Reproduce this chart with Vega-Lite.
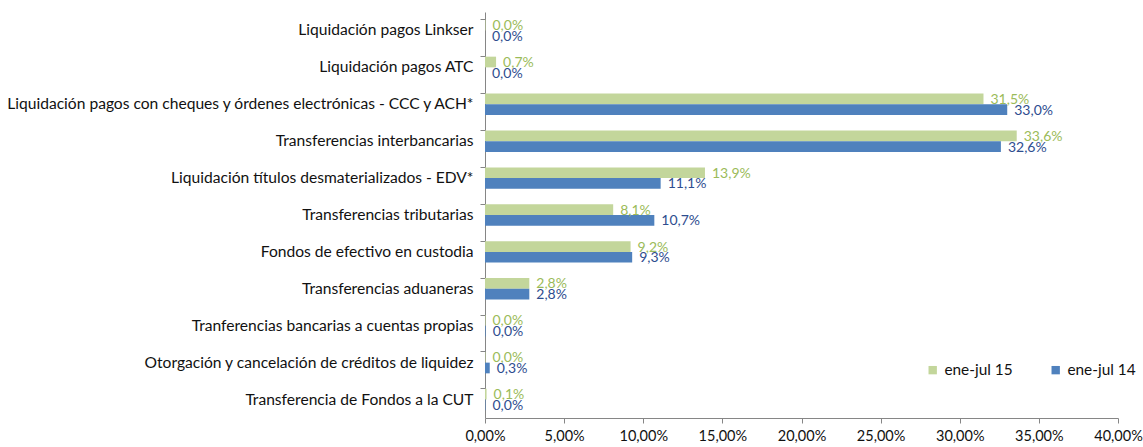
{
  "$schema": "https://vega.github.io/schema/vega-lite/v6.json",
  "width": 633,
  "height": 406,
  "autosize": {"type": "none"},
  "padding": {"left": 485, "top": 12, "right": 25, "bottom": 29},
  "background": "white",
  "config": {
    "locale": {"number": {"decimal": ",", "thousands": ".", "grouping": [3], "currency": ["", " €"]}},
    "view": {"stroke": null},
    "font": "Lato",
    "axis": {"labelFont": "Lato", "titleFont": "Lato"},
    "legend": {"labelFont": "Lato"}
  },
  "data": {
    "values": [
      {"cat": "Liquidación pagos Linkser", "serie": "ene-jul 15", "valor": 0.0003},
      {"cat": "Liquidación pagos Linkser", "serie": "ene-jul 14", "valor": 0.0},
      {"cat": "Liquidación pagos ATC", "serie": "ene-jul 15", "valor": 0.007},
      {"cat": "Liquidación pagos ATC", "serie": "ene-jul 14", "valor": 0.0},
      {"cat": "Liquidación pagos con cheques y órdenes electrónicas - CCC y ACH*", "serie": "ene-jul 15", "valor": 0.315},
      {"cat": "Liquidación pagos con cheques y órdenes electrónicas - CCC y ACH*", "serie": "ene-jul 14", "valor": 0.330},
      {"cat": "Transferencias interbancarias ", "serie": "ene-jul 15", "valor": 0.336},
      {"cat": "Transferencias interbancarias ", "serie": "ene-jul 14", "valor": 0.326},
      {"cat": "Liquidación títulos desmaterializados - EDV*", "serie": "ene-jul 15", "valor": 0.139},
      {"cat": "Liquidación títulos desmaterializados - EDV*", "serie": "ene-jul 14", "valor": 0.111},
      {"cat": "Transferencias tributarias ", "serie": "ene-jul 15", "valor": 0.081},
      {"cat": "Transferencias tributarias ", "serie": "ene-jul 14", "valor": 0.107},
      {"cat": "Fondos de efectivo en custodia", "serie": "ene-jul 15", "valor": 0.092},
      {"cat": "Fondos de efectivo en custodia", "serie": "ene-jul 14", "valor": 0.093},
      {"cat": "Transferencias aduaneras", "serie": "ene-jul 15", "valor": 0.028},
      {"cat": "Transferencias aduaneras", "serie": "ene-jul 14", "valor": 0.028},
      {"cat": "Tranferencias bancarias a cuentas propias", "serie": "ene-jul 15", "valor": 0.0003},
      {"cat": "Tranferencias bancarias a cuentas propias", "serie": "ene-jul 14", "valor": 0.0004},
      {"cat": "Otorgación y cancelación de créditos de liquidez", "serie": "ene-jul 15", "valor": 0.0003},
      {"cat": "Otorgación y cancelación de créditos de liquidez", "serie": "ene-jul 14", "valor": 0.003},
      {"cat": "Transferencia de Fondos a la CUT", "serie": "ene-jul 15", "valor": 0.001},
      {"cat": "Transferencia de Fondos a la CUT", "serie": "ene-jul 14", "valor": 0.0003}
    ]
  },
  "encoding": {
    "y": {
      "field": "cat",
      "type": "nominal",
      "sort": null,
      "title": null,
      "scale": {"paddingInner": 0.42, "paddingOuter": 0.21},
      "axis": {
        "bandPosition": 0,
        "domainColor": "#868686",
        "tickColor": "#868686",
        "tickSize": 5,
        "labelFontSize": 15.6,
        "labelColor": "#111111",
        "labelPadding": 7,
        "labelLimit": 600
      }
    },
    "yOffset": {
      "field": "serie",
      "type": "nominal",
      "sort": ["ene-jul 15", "ene-jul 14"],
      "scale": {"paddingInner": 0, "paddingOuter": 0}
    },
    "x": {
      "field": "valor",
      "type": "quantitative",
      "title": null,
      "scale": {"domain": [0, 0.4], "nice": false},
      "axis": {
        "values": [0, 0.05, 0.1, 0.15, 0.2, 0.25, 0.3, 0.35, 0.4],
        "format": ".2%",
        "grid": false,
        "labelFlush": false,
        "labelOverlap": false,
        "domainColor": "#868686",
        "tickColor": "#868686",
        "tickSize": 5,
        "labelFontSize": 14.5,
        "labelColor": "#111111",
        "labelPadding": 6
      }
    }
  },
  "layer": [
    {
      "mark": {"type": "bar"},
      "encoding": {
        "color": {
          "field": "serie",
          "type": "nominal",
          "scale": {"domain": ["ene-jul 15", "ene-jul 14"], "range": ["#C3D69B", "#4F81BD"]},
          "legend": {
            "title": null,
            "orient": "none",
            "legendX": 440,
            "legendY": 350,
            "direction": "horizontal",
            "symbolType": "square",
            "symbolSize": 70,
            "symbolStrokeWidth": 0,
            "labelFontSize": 15.4,
            "labelColor": "#111111",
            "labelOffset": 4,
            "columnPadding": 35
          }
        }
      }
    },
    {
      "mark": {"type": "text", "align": "left", "baseline": "middle", "dx": 7, "dy": 1, "fontSize": 14},
      "encoding": {
        "text": {"field": "valor", "type": "quantitative", "format": ".1%"},
        "color": {
          "field": "serie",
          "type": "nominal",
          "scale": {"domain": ["ene-jul 15", "ene-jul 14"], "range": ["#9BBB59", "#2E4D8F"]},
          "legend": null
        }
      }
    }
  ],
  "resolve": {"scale": {"color": "independent"}}
}
